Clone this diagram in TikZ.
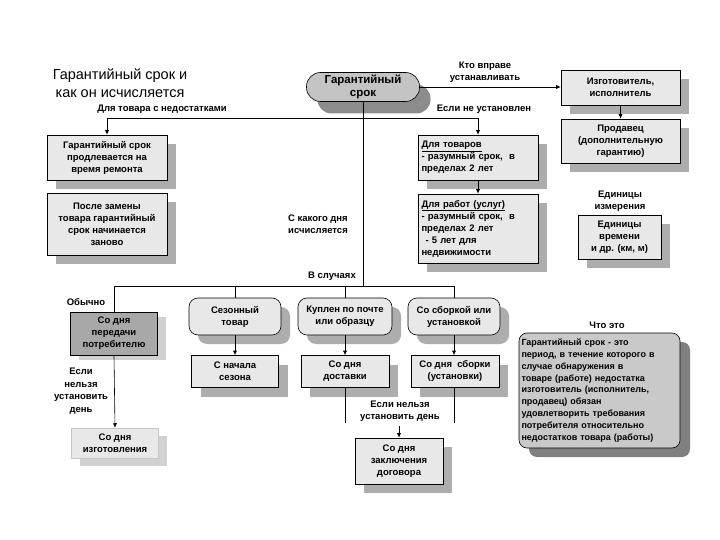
\documentclass[tikz,border=0pt]{standalone}
\usepackage{fontspec}
\setmainfont{Liberation Sans}
\usetikzlibrary{shadows,arrows.meta}
\definecolor{boxfill}{gray}{0.91}
\definecolor{shadowc}{gray}{0.68}
\definecolor{pillfill}{gray}{0.77}
\definecolor{pillshadow}{gray}{0.55}
\definecolor{darkfill}{gray}{0.66}
\definecolor{lightshadow}{gray}{0.82}
\definecolor{bigfill}{gray}{0.79}
\definecolor{bigshadow}{gray}{0.50}
\begin{document}
\begin{tikzpicture}[x=1pt,y=-1pt,
  every node/.style={font=\fontsize{9.5}{12}\selectfont\bfseries, inner sep=1pt},
  arr/.style={-{Latex[length=4.5pt,width=4pt]}, line width=0.6pt},
  ln/.style={line width=0.6pt},
  sbox/.style={draw, line width=0.6pt, fill=boxfill, align=center,
    drop shadow={shadow xshift=9pt, shadow yshift=-9pt, fill=shadowc, opacity=1}},
  rbox/.style={sbox, rounded corners=9pt},
  pill/.style={draw, line width=0.6pt, fill=pillfill, align=center, rounded corners=14pt,
    font=\fontsize{11.5}{13}\selectfont\bfseries,
    drop shadow={shadow xshift=11pt, shadow yshift=-12pt, fill=pillshadow, opacity=1}},
  darkbox/.style={draw, line width=0.6pt, fill=darkfill, align=center,
    drop shadow={shadow xshift=8pt, shadow yshift=-5pt, fill=lightshadow, opacity=1}},
  softbox/.style={draw=gray!45, line width=0.5pt, fill=boxfill, align=center,
    drop shadow={shadow xshift=8pt, shadow yshift=-8pt, fill=lightshadow, opacity=1}},
  bigbox/.style={draw, line width=0.6pt, fill=bigfill, align=left, rounded corners=8pt,
    font=\fontsize{9}{11.9}\selectfont\bfseries,
    drop shadow={shadow xshift=10pt, shadow yshift=-9pt, fill=bigshadow, opacity=1}},
  lbl/.style={align=center},
  ttl/.style={align=center, font=\fontsize{14.5}{17.5}\selectfont}
]
\useasboundingbox[fill=white] (0,0) rectangle (720,540);

% title
\node[ttl] (title) at (120,83) {Гарантийный срок и\\как он исчисляется};

% top row
\node[pill, minimum width=113pt, minimum height=29pt] (gs) at (363,87) {Гарантийный\\срок};
\node[sbox, minimum width=119pt, minimum height=35pt] (izg) at (620.5,87.5) {Изготовитель,\\исполнитель};
\node[sbox, minimum width=119pt, minimum height=44pt] (prod) at (620.5,141) {Продавец\\(дополнительную\\гарантию)};
\node[lbl] (kto) at (485,72) {Кто вправе\\устанавливать};
\node[lbl] (ednl) at (620,201) {Единицы\\измерения};
\node[sbox, minimum width=83pt, minimum height=44pt] (ed) at (619.5,237) {Единицы\\времени\\и др. (км, м)};

% second level
\node[lbl] (ltovara) at (162,109) {Для товара с недостатками};
\node[lbl] (lneust) at (484,109) {Если не установлен};
\node[sbox, minimum width=120pt, minimum height=45pt] (left1) at (107,157.5) {Гарантийный срок\\продлевается на\\время ремонта};
\node[sbox, minimum width=120pt, minimum height=62pt] (left2) at (107,224) {После замены\\товара гарантийный\\срок начинается\\заново};
\node[sbox, minimum width=120pt, minimum height=45pt, align=left, text width=113pt] (goods) at (478,157.5) {\underline{Для товаров}\\- разумный срок,\ \ в\\пределах 2 лет};
\node[sbox, minimum width=120pt, minimum height=69pt, align=left, text width=113pt] (works) at (478,228.5) {\underline{Для работ (услуг)}\\- разумный срок,\ \ в\\пределах 2 лет\\\hspace*{4pt}- 5 лет для\\недвижимости};
\node[lbl] (lkak) at (318,224) {С какого дня\\исчисляется};
\node[lbl] (lsluch) at (332,276) {В случаях};

% junction coordinates
\coordinate (yA) at (0,118);
\coordinate (yB) at (0,286);
\coordinate (yC) at (0,423);
\coordinate (yD) at (0,426);
\coordinate (jA) at (gs.south |- yA);
\coordinate (jB) at (gs.south |- yB);
\coordinate (jAl) at (left1.north |- yA);
\coordinate (jAr) at (goods.north |- yA);

% lower part
\node[lbl] (lob) at (86,302) {Обычно};
\node[darkbox, minimum width=87pt, minimum height=43pt] (per) at (114,333.5) {Со дня\\передачи\\потребителю};
\node[lbl, font=\fontsize{9.5}{12.5}\selectfont\bfseries] (lesli) at (81,391) {Если\\нельзя\\установить\\день};
\node[softbox, minimum width=87pt, minimum height=30pt] (izgot) at (115,443) {Со дня\\изготовления};

\node[rbox, minimum width=92pt, minimum height=37pt] (sez) at (235,316.5) {Сезонный\\товар};
\node[rbox, minimum width=94pt, minimum height=37pt] (kup) at (345,316.5) {Куплен по почте\\или образцу};
\node[rbox, minimum width=92pt, minimum height=37pt] (sbor) at (454,316.5) {Со сборкой или\\установкой};

\node[sbox, minimum width=87pt, minimum height=32pt] (nach) at (235,371.5) {С начала\\сезона};
\node[sbox, minimum width=88pt, minimum height=32pt] (dost) at (345,371.5) {Со дня\\доставки};
\node[sbox, minimum width=88pt, minimum height=32pt] (sbd) at (455,371.5) {Со дня\ \ сборки\\(установки)};

\node[lbl] (lesli2) at (400,411) {Если нельзя\\установить день};
\node[sbox, minimum width=88pt, minimum height=46pt] (dog) at (399,461) {Со дня\\заключения\\договора};

\node[lbl] (lchto) at (607,325) {Что это};
\node[bigbox, minimum width=161pt, minimum height=115pt, text width=156pt] (big) at (599.5,390.5) {Гарантийный срок - это\\период, в течение которого в\\случае обнаружения в\\товаре (работе) недостатка\\изготовитель (исполнитель,\\продавец) обязан\\удовлетворить требования\\потребителя относительно\\недостатков товара (работы)};

% connectors top
\draw[arr] (gs.east) -- (gs.east -| izg.west);
\draw[arr] (izg.south) -- (prod.north);
\draw[ln] (gs.south) -- (jB);
\draw[ln] (jAl) -- (jAr);
\draw[arr] (jAl) -- (left1.north);
\draw[arr] (jAr) -- (goods.north);
\draw[arr] (goods.south) -- (works.north);

% connectors lower
\coordinate (jBl) at (per.north |- yB);
\coordinate (jBr) at (sbor.north |- yB);
\draw[ln] (jBl) -- (jBr);
\draw[ln] (jBl) -- (per.north);
\draw[ln] (sez.north |- yB) -- (sez.north);
\draw[ln] (kup.north |- yB) -- (kup.north);
\draw[ln] (jBr) -- (sbor.north);
\draw[arr] (per.south) -- (izgot.north);
\draw[arr] (sez.south) -- (nach.north);
\draw[arr] (kup.south) -- (dost.north);
\draw[arr] (sbor.south) -- (sbd.north -| sbor.south);
\coordinate (e1) at (dost.south |- yC);
\coordinate (e2) at (sbor.south |- yC);
\coordinate (e3) at (dog.north |- yD);
\draw[ln] (dost.south) -- (e1);
\draw[ln] (sbor.south |- sbd.south) -- (e2);
\draw[arr] (e3) -- (dog.north);
\end{tikzpicture}
\end{document}
